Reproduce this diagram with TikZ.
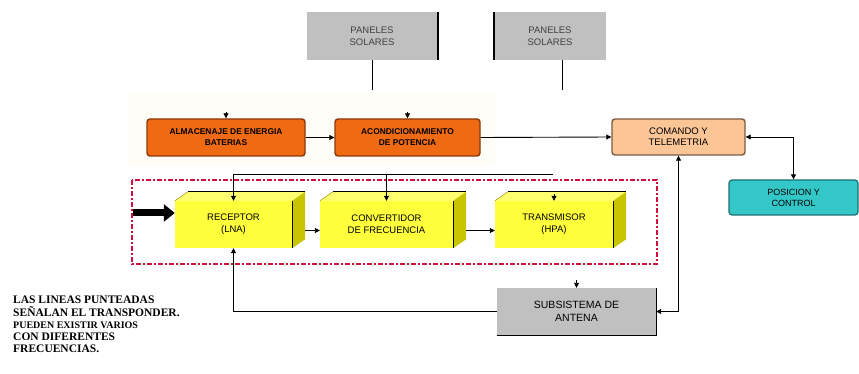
\documentclass[tikz,border=0pt]{standalone}
\usepackage{fontspec}
\setmainfont{Liberation Sans}
\newfontfamily\notefont{Liberation Serif}
\usetikzlibrary{arrows.meta,calc}
\definecolor{orfill}{HTML}{EF6A12}
\definecolor{ordraw}{HTML}{8A3A0A}
\definecolor{peach}{HTML}{FBC596}
\definecolor{peachdraw}{HTML}{7A5A40}
\definecolor{teal2}{HTML}{33C7C7}
\definecolor{tealdraw}{HTML}{1F6F6F}
\definecolor{panelgray}{HTML}{C0C0C0}
\definecolor{yfront}{HTML}{FFFF3C}
\definecolor{ytop}{HTML}{FFFF70}
\definecolor{yside}{HTML}{C9C400}
\definecolor{dotred}{HTML}{D0103C}
\definecolor{paleband}{HTML}{FFFDF7}
\tikzset{
  arr/.style={-{Triangle[length=5pt,width=5pt]}, line width=0.9pt},
  darr/.style={{Triangle[length=5pt,width=5pt]}-{Triangle[length=5pt,width=5pt]}, line width=0.9pt},
  plain/.style={line width=0.9pt},
  panelbox/.style={fill=panelgray, minimum width=131pt, minimum height=48pt, inner sep=0pt, align=center, text=black!75, font=\fontsize{9.5}{12}\selectfont},
  orbox/.style={fill=orfill, draw=ordraw, line width=1.4pt, rounded corners=3pt, minimum height=37pt, inner sep=0pt, align=center, font=\bfseries\fontsize{8.4}{11}\selectfont},
  peachbox/.style={fill=peach, draw=peachdraw, line width=1.4pt, rounded corners=3pt, minimum width=133pt, minimum height=36pt, inner sep=0pt, align=center, font=\fontsize{9.5}{11}\selectfont},
  tealbox/.style={fill=teal2, draw=tealdraw, line width=1.2pt, rounded corners=3pt, minimum width=129pt, minimum height=35pt, inner sep=0pt, align=center, font=\fontsize{9}{11}\selectfont},
  cubefront/.style={fill=yfront, minimum height=47pt, inner sep=0pt, align=center, font=\fontsize{9.5}{12}\selectfont},
  antbox/.style={fill=panelgray, minimum width=159pt, minimum height=47pt, inner sep=0pt, align=center, font=\fontsize{10.5}{13}\selectfont},
  transp/.style={draw=dotred, line width=2.6pt, dash pattern=on 5pt off 2pt on 2pt off 2pt}
}
\begin{document}
\begin{tikzpicture}[x=1pt,y=-1pt]
\useasboundingbox (0,0) rectangle (859,374);
\fill[white] (0,0) rectangle (859,374);
% faint band behind the power row
\fill[paleband] (128,92) rectangle (495,166);

% solar panels
\node[panelbox] (p1) at (372,36) {PANELES\\SOLARES};
\draw[line width=1.6pt] (p1.north east) -- (p1.south east);
\node[panelbox, minimum width=112pt] (p2) at (550,36) {PANELES\\SOLARES};
\draw[line width=1.6pt] (p2.north west) -- (p2.south west);
\coordinate (p1e) at (p1.south |- 0,90);
\coordinate (p2s) at (562,60);
\coordinate (p2e) at (562,90);
\draw[plain] (p1.south) -- (p1e);
\draw[plain] (p2s) -- (p2e);

% power row
\node[orbox, minimum width=158pt] (alm) at (226,137.5) {ALMACENAJE DE ENERGIA\\BATERIAS};
\node[orbox, minimum width=145pt] (acon) at (407.5,137.5) {ACONDICIONAMIENTO\\DE POTENCIA};
\node[peachbox] (com) at (678.5,137) {COMANDO Y\\TELEMETRIA};
\node[tealbox] (pos) at (793.5,197.5) {POSICION Y\\CONTROL};

\draw[arr] ($(alm.north)+(0,-6)$) -- (alm.north);
\draw[arr] ($(acon.north)+(0,-6)$) -- (acon.north);
\draw[arr] (alm.east) -- (acon.west);
\draw[arr] (acon.east) -- (com.west);
\draw[darr] (com.east) -| (pos.north);

% transponder frame
\draw[transp] (132,180) rectangle (657,264);

% cubes
\node[cubefront, minimum width=117pt] (rec) at (233.5,224.5) {RECEPTOR\\(LNA)};
\node[cubefront, minimum width=133pt] (conv) at (386.5,224.5) {CONVERTIDOR\\DE FRECUENCIA};
\node[cubefront, minimum width=118pt] (trans) at (554,224.5) {TRANSMISOR\\(HPA)};
\foreach \n in {rec,conv,trans}{
  \fill[ytop] (\n.north west) -- ++(13,-9) -- ($(\n.north east)+(13,-9)$) -- (\n.north east) -- cycle;
  \fill[yside] (\n.north east) -- ++(13,-9) -- ($(\n.south east)+(13,-9)$) -- (\n.south east) -- cycle;
  \draw[line width=0.9pt] ($(\n.north west)+(13,-9)$) -- ($(\n.north east)+(13,-9)$);
  \draw[line width=0.9pt] (\n.north east) -- (\n.south east);
  \draw[yside!70!black, line width=0.4pt] (\n.north west) -- ++(13,-9);
}
\draw[arr] ($(rec.east)+(13,6)$) -- ($(conv.west)+(0,6)$);
\draw[arr] ($(conv.east)+(13,6)$) -- ($(trans.west)+(0,6)$);

% command distribution
\coordinate (busl) at (rec.north |- 0,174);
\coordinate (busr) at (553,174);
\draw[plain] (busr) -- (busl);
\draw[arr] (busl) -- (rec.north);
\draw[arr] (conv.north |- busl) -- (conv.north);
\draw[arr] ($(trans.north)+(0,-7)$) -- (trans.north);

% input arrow
\coordinate (inp) at (133,213);
\draw[line width=7pt, -{Triangle[length=11pt,width=17pt]}] (inp) -- (rec.west |- inp);

% antenna subsystem
\node[antbox] (ant) at (576.5,311.5) {SUBSISTEMA DE\\ANTENA};
\draw[line width=1.3pt] (ant.south west) -- (ant.south east) -- (ant.north east);
\draw[arr] ($(ant.north)+(0,-8)$) -- (ant.north);
\draw[arr] (ant.west) -| (rec.south);
\draw[darr] (ant.east) -| (com.south);

% note
\node[anchor=north west, inner sep=0pt, align=left, font=\notefont\bfseries\fontsize{11.5}{12.2}\selectfont] (note) at (13,296)
 {LAS LINEAS PUNTEADAS\\SEÑALAN EL TRANSPONDER.\\{\fontsize{10}{12.2}\selectfont PUEDEN EXISTIR VARIOS}\\CON DIFERENTES\\FRECUENCIAS.};
\end{tikzpicture}
\end{document}
